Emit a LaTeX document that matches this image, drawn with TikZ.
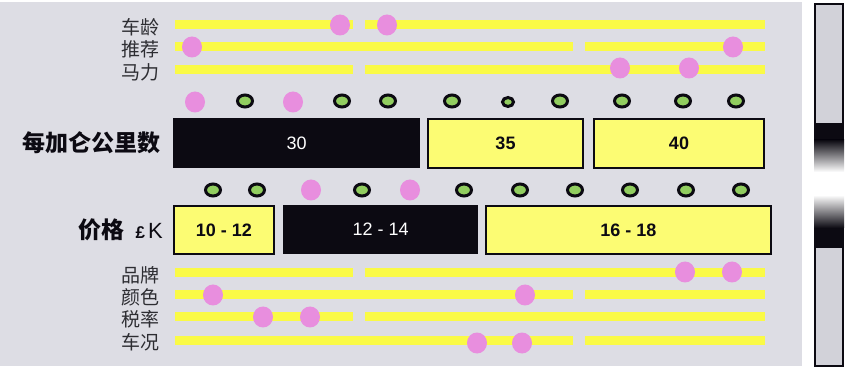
\documentclass[tikz,border=0pt]{standalone}
\usepackage{fontspec}
\setmainfont{Liberation Sans}
\newfontfamily\cjk{Noto Sans CJK SC}
\usetikzlibrary{positioning}
\definecolor{panel}{RGB}{221,221,228}
\definecolor{lanecol}{RGB}{250,250,70}
\definecolor{boxfill}{RGB}{252,252,115}
\definecolor{dotpink}{RGB}{232,142,222}
\definecolor{dotgreen}{RGB}{145,205,95}
\definecolor{ink}{RGB}{12,10,18}
\definecolor{soft}{RGB}{45,45,50}

\begin{document}
\begin{tikzpicture}[x=1pt,y=-1pt,
  lane/.style={draw=lanecol,line width=9pt},
  pk/.style={fill=dotpink},
  gr/.style={draw=ink,fill=dotgreen,line width=3pt},
  yb/.style={draw=ink,fill=boxfill,line width=2pt,anchor=north west,inner sep=0pt,text=ink,font=\bfseries\fontsize{18}{18}\selectfont},
  bb/.style={fill=ink,anchor=north west,inner sep=0pt,text=white,font=\fontsize{18}{18}\selectfont},
  lab/.style={anchor=east,inner sep=0pt,text=soft,font=\cjk\fontsize{19}{19}\selectfont},
  big/.style={anchor=east,inner sep=0pt,text=ink,font=\cjk\bfseries\fontsize{23}{23}\selectfont}]
  \useasboundingbox (0,0) rectangle (846,371);
  \fill[panel] (0,2) rectangle (802,366);
  % yellow lanes
  \foreach \y/\a/\b/\c/\d in {25/175/353/365/765,47/175/573/585/765,70/175/353/365/765,
      273/175/353/365/765,295/175/573/585/765,317/175/353/365/765,340/175/573/585/765}
    \draw[lane] (\a,\y) -- (\b,\y) (\c,\y) -- (\d,\y);
  \foreach \x/\y in {340/25,387/25,192/47,733/47,620/68,689/68,195/102,293/102,311/190,410/190,
      685/272,732/272,213/295,525/295,263/317,310/317,477/343,522/343}
    \fill[pk] (\x,\y) ellipse [x radius=10,y radius=10.5];
  \foreach \x in {245,342,388,452,560,622,683,736}
    \draw[gr] (\x,101) ellipse [x radius=7.5,y radius=6];
  \draw[gr] (508,102) ellipse [x radius=5.5,y radius=4.5];
  \foreach \x in {213,257,362,464,520,575,630,686,741}
    \draw[gr] (\x,190) ellipse [x radius=7.5,y radius=6];
  % labels
  \node[lab] (age) at (160,27) {车龄};
  \node[lab] (rec) at (160,49) {推荐};
  \node[lab] (hp) at (160,72) {马力};
  \node[lab] (brand) at (160,275) {品牌};
  \node[lab] (color) at (160,297) {颜色};
  \node[lab] (tax) at (160,319) {税率};
  \node[lab] (cond) at (160,342) {车况};
  \node[big] (mpg) at (161,143) {每加仑公里数};
  \node[big] (price) at (163,230) {价格\hspace{11pt}{\rmfamily\bfseries\fontsize{17}{17}\selectfont £}\hspace{3pt}{\rmfamily\mdseries\fontsize{22}{22}\selectfont K}};
  % boxes
  \node[bb,minimum width=247pt,minimum height=50pt] (m30) at (173,118) {30};
  \node[yb,minimum width=155pt,minimum height=49pt] (m35) at (427,118) {35};
  \node[yb,minimum width=170pt,minimum height=49pt] (m40) at (593,118) {40};
  \node[yb,minimum width=100pt,minimum height=48pt] (p10) at (173,205) {10 - 12};
  \node[bb,minimum width=195pt,minimum height=49pt] (p12) at (283,205) {12 - 14};
  \node[yb,minimum width=285pt,minimum height=48pt] (p16) at (485,205) {16 - 18};
  % right bar
  \fill[ink] (814,123) rectangle (844,140);
  \shade[top color=ink,bottom color=white] (814,140) rectangle (844,172);
  \shade[top color=white,bottom color=ink] (814,195) rectangle (844,228);
  \fill[ink] (814,228) rectangle (844,248);
  \draw[ink,fill=panel!95!black,line width=2.5pt] (815,4) rectangle (843,124);
  \draw[ink,fill=panel!95!black,line width=2.5pt] (815,247) rectangle (843,366);
\end{tikzpicture}
\end{document}
